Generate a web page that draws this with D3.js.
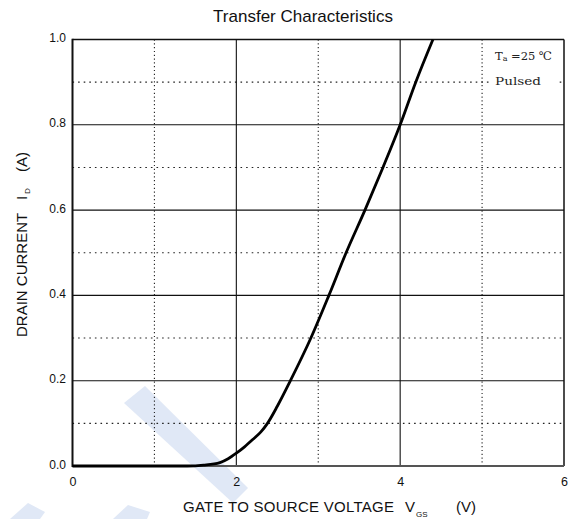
<!DOCTYPE html>
<html>
<head>
<meta charset="utf-8">
<script src="https://cdn.jsdelivr.net/npm/d3@7"></script>
<style>
  html, body { margin: 0; padding: 0; background: #fff; }
  svg { display: block; }
  text.sans { font-family: "Liberation Sans", Arial, sans-serif; fill: #111; }
  text.serif { font-family: "DejaVu Serif", "Liberation Serif", serif; fill: #222; }
</style>
</head>
<body>
<script>
// ---- data ----
const vgs = [0, 0.5, 1.0, 1.4, 1.6, 1.8, 1.9, 2.0, 2.1, 2.2, 2.3, 2.38, 2.5, 2.66, 2.91, 3.13, 3.34, 3.57, 3.79, 4.0, 4.19, 4.40];
const idA = [0, 0, 0, 0, 0.002, 0.008, 0.017, 0.03, 0.045, 0.062, 0.08, 0.1, 0.14, 0.2, 0.3, 0.4, 0.5, 0.6, 0.7, 0.8, 0.9, 1.0];
const xTicks = [0, 2, 4, 6];
const xMinor = [1, 3, 5];
const yTicks = [0, 0.2, 0.4, 0.6, 0.8, 1.0];
const yMinor = [0.1, 0.3, 0.5, 0.7, 0.9];
const yTickLabels = ["0.0", "0.2", "0.4", "0.6", "0.8", "1.0"];
const xTickLabels = ["0", "2", "4", "6"];
const titleText = "Transfer Characteristics";

const W = 572, H = 519;
const svg = d3.select("body").append("svg").attr("width", W).attr("height", H);

// watermark (light decoration)
const wm = [
  [[124,403],[145,386],[248,488],[233,503]],
  [[10,519],[28,503],[45,512],[40,519]],
  [[113,519],[128,505],[150,512],[147,519]]
];
svg.append("g").selectAll("path").data(wm).join("path")
  .attr("d", d => d3.line()(d) + "Z")
  .attr("fill", "#e0e8f6");

const x = d3.scaleLinear().domain([0, 6]).range([72.5, 564]);
const y = d3.scaleLinear().domain([0, 1]).range([466, 39.5]);

// minor dotted grid
svg.append("g").selectAll("line").data(xMinor).join("line")
  .attr("x1", d => x(d)).attr("x2", d => x(d))
  .attr("y1", y(1)).attr("y2", y(0))
  .attr("stroke", "#222").attr("stroke-width", 1.1).attr("stroke-dasharray", "1.2,2.6");
svg.append("g").selectAll("line").data(yMinor).join("line")
  .attr("x1", x(0)).attr("x2", x(6))
  .attr("y1", d => y(d)).attr("y2", d => y(d))
  .attr("stroke", "#222").attr("stroke-width", 1.1).attr("stroke-dasharray", "1.6,4");

// major solid grid
svg.append("g").selectAll("line").data(xTicks.slice(1, -1)).join("line")
  .attr("x1", d => x(d)).attr("x2", d => x(d))
  .attr("y1", y(1)).attr("y2", y(0))
  .attr("stroke", "#111").attr("stroke-width", 1.1);
svg.append("g").selectAll("line").data(yTicks.slice(1, -1)).join("line")
  .attr("x1", x(0)).attr("x2", x(6))
  .attr("y1", d => y(d)).attr("y2", d => y(d))
  .attr("stroke", "#111").attr("stroke-width", 1.1);

// annotation with white background
svg.append("rect").attr("x", 490).attr("y", 72).attr("width", 66).attr("height", 16).attr("fill", "#fff");
const t1 = svg.append("text").attr("class", "serif").attr("x", 495).attr("y", 59.5).attr("font-size", 11.5);
t1.append("tspan").text("T");
t1.append("tspan").text("a").attr("font-size", 8).attr("dy", 1);
t1.append("tspan").text(" =25 \u2103").attr("dy", -1);
svg.append("text").attr("class", "serif").attr("x", 495).attr("y", 85).attr("font-size", 11.5)
  .attr("textLength", 46).attr("lengthAdjust", "spacingAndGlyphs").text("Pulsed");

// frame
svg.append("line").attr("x1", x(0)).attr("x2", x(6)).attr("y1", y(1)).attr("y2", y(1)).attr("stroke", "#111").attr("stroke-width", 1.5);
svg.append("line").attr("x1", x(6)).attr("x2", x(6)).attr("y1", y(1)).attr("y2", y(0)).attr("stroke", "#111").attr("stroke-width", 1.5);
svg.append("line").attr("x1", x(0)).attr("x2", x(6)).attr("y1", y(0)).attr("y2", y(0)).attr("stroke", "#555").attr("stroke-width", 2);
svg.append("line").attr("x1", x(0)).attr("x2", x(0)).attr("y1", y(1) - 0.75).attr("y2", y(0) + 1).attr("stroke", "#111").attr("stroke-width", 2);

// curve
const pts = vgs.map((v, i) => [v, idA[i]]);
svg.append("path").datum(pts)
  .attr("fill", "none").attr("stroke", "#000").attr("stroke-width", 2.8)
  .attr("stroke-linejoin", "round")
  .attr("d", d3.line().x(d => x(d[0])).y(d => y(d[1])).curve(d3.curveMonotoneX));

// tick labels
svg.append("g").selectAll("text").data(yTicks).join("text").attr("class", "sans")
  .attr("x", 66).attr("y", d => y(d) + 2.5)
  .attr("text-anchor", "end").attr("font-size", 12)
  .text((d, i) => yTickLabels[i]);
svg.append("g").selectAll("text").data(xTicks).join("text").attr("class", "sans")
  .attr("x", d => x(d) + 0.5).attr("y", 486)
  .attr("text-anchor", "middle").attr("font-size", 12.5)
  .text((d, i) => xTickLabels[i]);

// title
svg.append("text").attr("class", "sans").attr("x", 303).attr("y", 22).attr("text-anchor", "middle")
  .attr("font-size", 17).text(titleText);

// x axis title
const xt = svg.append("text").attr("class", "sans").attr("y", 512).attr("font-size", 15);
xt.append("tspan").attr("x", 183).attr("textLength", 211).text("GATE TO SOURCE VOLTAGE");
xt.append("tspan").attr("x", 405).text("V");
xt.append("tspan").attr("x", 416).attr("dy", 5).attr("font-size", 8).text("GS");
xt.append("tspan").attr("x", 456).attr("dy", -5).text("(V)");

// y axis title
const yt = svg.append("text").attr("class", "sans").attr("transform", "translate(27,337) rotate(-90)").attr("font-size", 15);
yt.append("tspan").attr("x", 0).text("DRAIN CURRENT");
yt.append("tspan").attr("x", 137).text("I");
yt.append("tspan").attr("x", 143).attr("dy", 3).attr("font-size", 8).text("D");
yt.append("tspan").attr("x", 165).attr("dy", -3).text("(A)");
</script>
</body>
</html>
